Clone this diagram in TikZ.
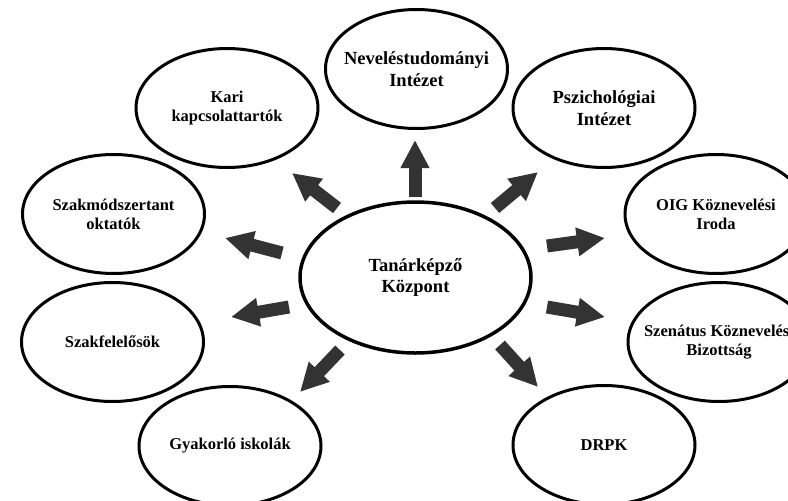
\documentclass[tikz,border=0pt]{standalone}
\usepackage{fontspec}
\setmainfont{Liberation Serif}
\usetikzlibrary{shapes.geometric,arrows.meta}
\definecolor{arrowgray}{HTML}{333333}
\begin{document}
\begin{tikzpicture}[x=1pt,y=-1pt,
  bubble/.style={ellipse, draw=black, line width=3pt, minimum width=182pt, minimum height=119pt, inner sep=0pt},
  hub/.style={ellipse, draw=black, line width=3.5pt, minimum width=231pt, minimum height=151pt, inner sep=0pt},
  smalltxt/.style={align=center, font=\fontsize{16.5}{18.8}\selectfont\bfseries, inner sep=0pt},
  bigtxt/.style={align=center, font=\fontsize{18.5}{21.7}\selectfont\bfseries, inner sep=0pt},
  blockarrow/.style={draw=arrowgray, line width=13pt, -{Triangle[width=27pt,length=28pt]}}]
\useasboundingbox (0,0) rectangle (788,501);

\node[hub, label={[bigtxt]center:Tanárképző\\Központ}] (tk) at (415.5,277.5) {};
\node[bubble, label={[bigtxt]center:Neveléstudományi\\Intézet}] (nev) at (416.5,69) {};
\node[bubble, label={[bigtxt]center:Pszichológiai\\Intézet}] (psz) at (604,108) {};
\node[bubble, label={[smalltxt]center:OIG Köznevelési\\Iroda}] (oig) at (716,214) {};
\node[bubble, label={[smalltxt]center:Szenátus Köznevelési\\Bizottság}] (szen) at (719,342) {};
\node[bubble, label={[smalltxt]center:DRPK}] (drpk) at (604,445) {};
\node[bubble, label={[smalltxt]center:Gyakorló iskolák}] (gyak) at (230,446) {};
\node[bubble, label={[smalltxt]center:Szakfelelősök}] (szf) at (112.5,342) {};
\node[bubble, label={[smalltxt]center:Szakmódszertant\\oktatók}] (szm) at (113.5,214) {};
\node[bubble, label={[smalltxt]center:Kari\\kapcsolattartók}] (kari) at (227,108) {};

% arrow tails and tips
\coordinate (t1) at (415,197); \coordinate (h1) at (415,140);
\coordinate (t2) at (495,208); \coordinate (h2) at (538,172);
\coordinate (t3) at (547,246); \coordinate (h3) at (605,238);
\coordinate (t4) at (547,307); \coordinate (h4) at (605,317);
\coordinate (t5) at (500,345); \coordinate (h5) at (538,387);
\coordinate (t6) at (340,350); \coordinate (h6) at (300,392);
\coordinate (t7) at (289,307); \coordinate (h7) at (231,317);
\coordinate (t8) at (282,253); \coordinate (h8) at (225,238);
\coordinate (t9) at (337,208); \coordinate (h9) at (292,173);

\foreach \i in {1,...,9} {\draw[blockarrow] (t\i) -- (h\i);}
\end{tikzpicture}
\end{document}
